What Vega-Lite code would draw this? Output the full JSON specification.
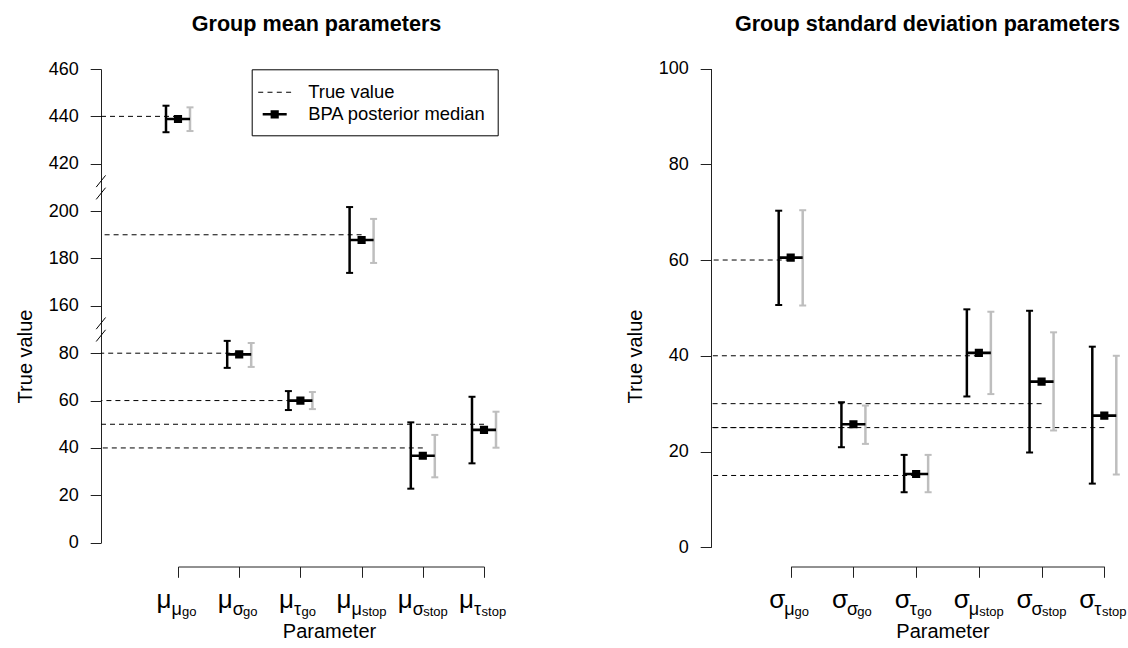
{
  "$schema": "https://vega.github.io/schema/vega-lite/v6.json",
  "width": 1020,
  "height": 517.5,
  "autosize": "none",
  "padding": {"left": 101, "top": 49, "right": 7, "bottom": 81.5},
  "background": "white",
  "datasets": {
    "mean": [
      {"idx": 1, "parameter": "μ_μgo", "truth": 440, "med": 438.9, "lo_b": 433.3, "hi_b": 444.5, "lo_g": 433.8, "hi_g": 443.8, "series": "BPA posterior median"},
      {"idx": 2, "parameter": "μ_σgo", "truth": 80, "med": 79.5, "lo_b": 73.8, "hi_b": 85.2, "lo_g": 74.2, "hi_g": 84.3, "series": "BPA posterior median"},
      {"idx": 3, "parameter": "μ_τgo", "truth": 60, "med": 60.0, "lo_b": 56.0, "hi_b": 64.0, "lo_g": 56.4, "hi_g": 63.6, "series": "BPA posterior median"},
      {"idx": 4, "parameter": "μ_μstop", "truth": 190, "med": 187.8, "lo_b": 173.9, "hi_b": 201.7, "lo_g": 178.1, "hi_g": 196.7, "series": "BPA posterior median"},
      {"idx": 5, "parameter": "μ_σstop", "truth": 40, "med": 36.7, "lo_b": 22.8, "hi_b": 50.8, "lo_g": 27.6, "hi_g": 45.5, "series": "BPA posterior median"},
      {"idx": 6, "parameter": "μ_τstop", "truth": 50, "med": 47.6, "lo_b": 33.5, "hi_b": 61.6, "lo_g": 40.1, "hi_g": 55.3, "series": "BPA posterior median"}
    ],
    "sd": [
      {"idx": 1, "parameter": "σ_μgo", "truth": 60, "med": 60.5, "lo_b": 50.6, "hi_b": 70.3, "lo_g": 50.5, "hi_g": 70.4},
      {"idx": 2, "parameter": "σ_σgo", "truth": 25, "med": 25.7, "lo_b": 20.9, "hi_b": 30.3, "lo_g": 21.6, "hi_g": 29.6},
      {"idx": 3, "parameter": "σ_τgo", "truth": 15, "med": 15.3, "lo_b": 11.5, "hi_b": 19.3, "lo_g": 11.5, "hi_g": 19.3},
      {"idx": 4, "parameter": "σ_μstop", "truth": 40, "med": 40.6, "lo_b": 31.5, "hi_b": 49.7, "lo_g": 32.0, "hi_g": 49.2},
      {"idx": 5, "parameter": "σ_σstop", "truth": 30, "med": 34.6, "lo_b": 19.8, "hi_b": 49.4, "lo_g": 24.4, "hi_g": 44.9},
      {"idx": 6, "parameter": "σ_τstop", "truth": 25, "med": 27.5, "lo_b": 13.3, "hi_b": 41.9, "lo_g": 15.2, "hi_g": 40.0}
    ],
    "breaks": [{"v": 120}, {"v": 310}]
  },
  "layer": [
    {
      "data": {"name": "mean"},
      "mark": {"type": "rule", "strokeDash": [5, 4], "strokeWidth": 1, "color": "#000"},
      "encoding": {
        "x": {"field": "idx", "type": "quantitative",
          "scale": {"domain": [1, 6], "range": [77, 383], "nice": false, "zero": false},
          "axis": {"orient": "top", "domain": false, "ticks": false, "labels": false, "title": "Group mean parameters", "titleFontSize": 21.6, "titleFontWeight": "bold", "titleX": 215, "titleY": -19, "titleBaseline": "alphabetic", "titleAlign": "center", "titleAngle": 0}},
        "x2": {"datum": -0.26},
        "y": {"field": "truth", "type": "quantitative",
          "scale": {"domain": [0, 90, 150, 210, 410, 460], "range": [493.7, 280.5, 280.5, 138.4, 138.4, 20], "nice": false, "zero": false},
          "axis": {"orient": "left", "values": [0, 20, 40, 60, 80, 160, 180, 200, 420, 440, 460], "title": "True value", "titleFontSize": 20, "titleX": -70, "titleY": 307, "titleAngle": -90, "titleBaseline": "alphabetic", "titleAlign": "center", "labelFontSize": 18, "labelPadding": 12, "domain": true, "ticks": true}}
      }
    },
    {
      "data": {"name": "breaks"},
      "mark": {"type": "point", "shape": "M-0.39,-0.025L0.39,-1M-0.39,1L0.39,0.025", "size": 576, "filled": false, "stroke": "#000", "strokeWidth": 1, "opacity": 1},
      "encoding": {
        "x": {"datum": -0.26, "type": "quantitative", "scale": {"domain": [1, 6], "range": [77, 383], "nice": false, "zero": false}, "axis": null},
        "y": {"field": "v", "type": "quantitative", "scale": {"domain": [0, 90, 150, 210, 410, 460], "range": [493.7, 280.5, 280.5, 138.4, 138.4, 20], "nice": false, "zero": false}, "axis": null}
      }
    },
    {
      "data": {"name": "mean"},
      "encoding": {
        "x": {"field": "idx", "type": "quantitative",
          "scale": {"domain": [1, 6], "range": [77, 383], "nice": false, "zero": false},
          "axis": {"orient": "bottom", "values": [1, 2, 3, 4, 5, 6], "title": "Parameter", "titleFontSize": 20, "titleX": 228, "titleY": 70.8, "titleBaseline": "alphabetic", "titleAlign": "center", "titleAngle": 0, "domain": true, "ticks": true, "labelExpr": "'μ'", "labelFontSize": 26, "labelAlign": "left", "labelBaseline": "alphabetic", "labelPadding": 30.4, "labelAngle": 0, "labelOffset": {"condition": {"test": "datum.value <= 3", "value": -22}, "value": -25.5}}}
      },
      "layer": [
        {"mark": {"type": "rule", "strokeWidth": 2.5, "color": "#000", "xOffset": -12},
         "encoding": {"y": {"field": "lo_b", "type": "quantitative", "scale": {"domain": [0, 90, 150, 210, 410, 460], "range": [493.7, 280.5, 280.5, 138.4, 138.4, 20], "nice": false, "zero": false}, "axis": null}, "y2": {"field": "hi_b"}}},
        {"mark": {"type": "tick", "orient": "horizontal", "size": 7, "thickness": 2, "color": "#000", "opacity": 1, "xOffset": -12},
         "encoding": {"y": {"field": "lo_b", "type": "quantitative", "scale": {"domain": [0, 90, 150, 210, 410, 460], "range": [493.7, 280.5, 280.5, 138.4, 138.4, 20], "nice": false, "zero": false}, "axis": null}}},
        {"mark": {"type": "tick", "orient": "horizontal", "size": 7, "thickness": 2, "color": "#000", "opacity": 1, "xOffset": -12},
         "encoding": {"y": {"field": "hi_b", "type": "quantitative", "scale": {"domain": [0, 90, 150, 210, 410, 460], "range": [493.7, 280.5, 280.5, 138.4, 138.4, 20], "nice": false, "zero": false}, "axis": null}}}
      ]
    },
    {
      "data": {"name": "mean"},
      "encoding": {
        "x": {"field": "idx", "type": "quantitative",
          "scale": {"domain": [1, 6], "range": [77, 383], "nice": false, "zero": false},
          "axis": {"orient": "bottom", "values": [1, 2, 3, 4, 5, 6], "title": null, "domain": false, "ticks": true, "tickOpacity": 0, "labelExpr": "datum.value <= 3 ? 'go' : 'stop'", "labelFontSize": 13, "labelAlign": "left", "labelBaseline": "alphabetic", "labelPadding": 37.7, "labelAngle": 0, "labelOffset": {"condition": [{"test": "datum.value == 3", "value": 0.6}, {"test": "datum.value == 6", "value": -2.9}, {"test": "datum.value <= 3", "value": 3.4}], "value": -0.1}}}
      },
      "layer": [
        {"mark": {"type": "rule", "strokeWidth": 2.5, "color": "#BEBEBE", "xOffset": 12},
         "encoding": {"y": {"field": "lo_g", "type": "quantitative", "scale": {"domain": [0, 90, 150, 210, 410, 460], "range": [493.7, 280.5, 280.5, 138.4, 138.4, 20], "nice": false, "zero": false}, "axis": null}, "y2": {"field": "hi_g"}}},
        {"mark": {"type": "tick", "orient": "horizontal", "size": 7, "thickness": 2, "color": "#BEBEBE", "opacity": 1, "xOffset": 12},
         "encoding": {"y": {"field": "lo_g", "type": "quantitative", "scale": {"domain": [0, 90, 150, 210, 410, 460], "range": [493.7, 280.5, 280.5, 138.4, 138.4, 20], "nice": false, "zero": false}, "axis": null}}},
        {"mark": {"type": "tick", "orient": "horizontal", "size": 7, "thickness": 2, "color": "#BEBEBE", "opacity": 1, "xOffset": 12},
         "encoding": {"y": {"field": "hi_g", "type": "quantitative", "scale": {"domain": [0, 90, 150, 210, 410, 460], "range": [493.7, 280.5, 280.5, 138.4, 138.4, 20], "nice": false, "zero": false}, "axis": null}}}
      ]
    },
    {
      "data": {"name": "mean"},
      "mark": {"type": "point", "filled": true, "size": 576, "opacity": 1, "strokeWidth": 0, "color": "#000"},
      "encoding": {
        "x": {"field": "idx", "type": "quantitative",
          "scale": {"domain": [1, 6], "range": [77, 383], "nice": false, "zero": false},
          "axis": {"orient": "bottom", "values": [1, 2, 3, 4, 5, 6], "title": null, "domain": false, "ticks": true, "tickOpacity": 0, "labelExpr": "['μ','σ','τ'][(datum.value - 1) % 3]", "labelFontSize": 18, "labelAlign": "left", "labelBaseline": "alphabetic", "labelPadding": 36.7, "labelAngle": 0, "labelOffset": {"condition": {"test": "datum.value <= 3", "value": -7}, "value": -10.5}}},
        "y": {"field": "med", "type": "quantitative", "scale": {"domain": [0, 90, 150, 210, 410, 460], "range": [493.7, 280.5, 280.5, 138.4, 138.4, 20], "nice": false, "zero": false}, "axis": null},
        "shape": {"field": "series", "type": "nominal",
          "scale": {"domain": ["True value", "BPA posterior median"], "range": ["M-1.375,-0.045H-0.958V0.045H-1.375ZM-0.6,-0.045H-0.183V0.045H-0.6ZM0.175,-0.045H0.592V0.045H0.175ZM0.95,-0.045H1.367V0.045H0.95Z", "M-1,-0.11H1V0.11H-1ZM-0.34,-0.34H0.34V0.34H-0.34Z"]},
          "legend": {"title": null, "orient": "none", "legendX": 150.7, "legendY": 20.3, "strokeColor": "#000", "padding": 11, "rowPadding": -3, "labelFontSize": 18.4, "labelFont": "Liberation Sans", "labelColor": "#000", "labelOffset": 21.5, "labelLimit": 400, "symbolSize": 576, "symbolFillColor": "#000", "symbolStrokeWidth": 0, "symbolOpacity": 1, "direction": "vertical"}}
      }
    },
    {
      "data": {"name": "sd"},
      "mark": {"type": "rule", "strokeDash": [5, 4], "strokeWidth": 1, "color": "#000"},
      "encoding": {
        "x": {"field": "idx", "type": "quantitative",
          "scale": {"domain": [1, 6], "range": [689.7, 1003.3], "nice": false, "zero": false},
          "axis": {"orient": "top", "domain": false, "ticks": false, "labels": false, "title": "Group standard deviation parameters", "titleFontSize": 21.6, "titleFontWeight": "bold", "titleX": 826, "titleY": -19, "titleBaseline": "alphabetic", "titleAlign": "center", "titleAngle": 0}},
        "x2": {"datum": -0.27},
        "y": {"field": "truth", "type": "quantitative",
          "scale": {"domain": [0, 100], "range": [498.3, 19.5], "nice": false, "zero": false},
          "axis": {"orient": "left", "offset": -610, "values": [0, 20, 40, 60, 80, 100], "title": "True value", "titleFontSize": 20, "titleX": -70, "titleY": 307, "titleAngle": -90, "titleBaseline": "alphabetic", "titleAlign": "center", "labelFontSize": 18, "labelPadding": 12, "domain": true, "ticks": true}}
      }
    },
    {
      "data": {"name": "sd"},
      "encoding": {
        "x": {"field": "idx", "type": "quantitative",
          "scale": {"domain": [1, 6], "range": [689.7, 1003.3], "nice": false, "zero": false},
          "axis": {"orient": "bottom", "values": [1, 2, 3, 4, 5, 6], "title": "Parameter", "titleFontSize": 20, "titleX": 841.5, "titleY": 70.8, "titleBaseline": "alphabetic", "titleAlign": "center", "titleAngle": 0, "domain": true, "ticks": true, "labelExpr": "'σ'", "labelFontSize": 26, "labelAlign": "left", "labelBaseline": "alphabetic", "labelPadding": 30.4, "labelAngle": 0, "labelOffset": {"condition": {"test": "datum.value <= 3", "value": -22}, "value": -25.5}}}
      },
      "layer": [
        {"mark": {"type": "rule", "strokeWidth": 2.5, "color": "#000", "xOffset": -12},
         "encoding": {"y": {"field": "lo_b", "type": "quantitative", "scale": {"domain": [0, 100], "range": [498.3, 19.5], "nice": false, "zero": false}, "axis": null}, "y2": {"field": "hi_b"}}},
        {"mark": {"type": "tick", "orient": "horizontal", "size": 7, "thickness": 2, "color": "#000", "opacity": 1, "xOffset": -12},
         "encoding": {"y": {"field": "lo_b", "type": "quantitative", "scale": {"domain": [0, 100], "range": [498.3, 19.5], "nice": false, "zero": false}, "axis": null}}},
        {"mark": {"type": "tick", "orient": "horizontal", "size": 7, "thickness": 2, "color": "#000", "opacity": 1, "xOffset": -12},
         "encoding": {"y": {"field": "hi_b", "type": "quantitative", "scale": {"domain": [0, 100], "range": [498.3, 19.5], "nice": false, "zero": false}, "axis": null}}}
      ]
    },
    {
      "data": {"name": "sd"},
      "encoding": {
        "x": {"field": "idx", "type": "quantitative",
          "scale": {"domain": [1, 6], "range": [689.7, 1003.3], "nice": false, "zero": false},
          "axis": {"orient": "bottom", "values": [1, 2, 3, 4, 5, 6], "title": null, "domain": false, "ticks": true, "tickOpacity": 0, "labelExpr": "datum.value <= 3 ? 'go' : 'stop'", "labelFontSize": 13, "labelAlign": "left", "labelBaseline": "alphabetic", "labelPadding": 37.7, "labelAngle": 0, "labelOffset": {"condition": [{"test": "datum.value == 3", "value": 0.6}, {"test": "datum.value == 6", "value": -2.9}, {"test": "datum.value <= 3", "value": 3.4}], "value": -0.1}}}
      },
      "layer": [
        {"mark": {"type": "rule", "strokeWidth": 2.5, "color": "#BEBEBE", "xOffset": 12},
         "encoding": {"y": {"field": "lo_g", "type": "quantitative", "scale": {"domain": [0, 100], "range": [498.3, 19.5], "nice": false, "zero": false}, "axis": null}, "y2": {"field": "hi_g"}}},
        {"mark": {"type": "tick", "orient": "horizontal", "size": 7, "thickness": 2, "color": "#BEBEBE", "opacity": 1, "xOffset": 12},
         "encoding": {"y": {"field": "lo_g", "type": "quantitative", "scale": {"domain": [0, 100], "range": [498.3, 19.5], "nice": false, "zero": false}, "axis": null}}},
        {"mark": {"type": "tick", "orient": "horizontal", "size": 7, "thickness": 2, "color": "#BEBEBE", "opacity": 1, "xOffset": 12},
         "encoding": {"y": {"field": "hi_g", "type": "quantitative", "scale": {"domain": [0, 100], "range": [498.3, 19.5], "nice": false, "zero": false}, "axis": null}}}
      ]
    },
    {
      "data": {"name": "sd"},
      "mark": {"type": "point", "filled": true, "size": 576, "opacity": 1, "strokeWidth": 0, "color": "#000", "shape": "M-1,-0.11H1V0.11H-1ZM-0.34,-0.34H0.34V0.34H-0.34Z"},
      "encoding": {
        "x": {"field": "idx", "type": "quantitative",
          "scale": {"domain": [1, 6], "range": [689.7, 1003.3], "nice": false, "zero": false},
          "axis": {"orient": "bottom", "values": [1, 2, 3, 4, 5, 6], "title": null, "domain": false, "ticks": true, "tickOpacity": 0, "labelExpr": "['μ','σ','τ'][(datum.value - 1) % 3]", "labelFontSize": 18, "labelAlign": "left", "labelBaseline": "alphabetic", "labelPadding": 36.7, "labelAngle": 0, "labelOffset": {"condition": {"test": "datum.value <= 3", "value": -7}, "value": -10.5}}},
        "y": {"field": "med", "type": "quantitative", "scale": {"domain": [0, 100], "range": [498.3, 19.5], "nice": false, "zero": false}, "axis": null}
      }
    }
  ],
  "resolve": {"scale": {"x": "independent", "y": "independent"}, "axis": {"x": "independent", "y": "independent"}},
  "config": {
    "font": "Liberation Sans",
    "view": {"stroke": null},
    "axis": {"labelFont": "Liberation Sans", "titleFont": "Liberation Sans", "labelColor": "#000", "titleColor": "#000", "domainColor": "#222", "tickColor": "#222", "domainWidth": 1, "tickWidth": 1, "tickSize": 10.8, "grid": false, "labelOverlap": false, "labelFlush": false, "titleFontWeight": "normal"},
    "legend": {"strokeWidth": 1}
  }
}
